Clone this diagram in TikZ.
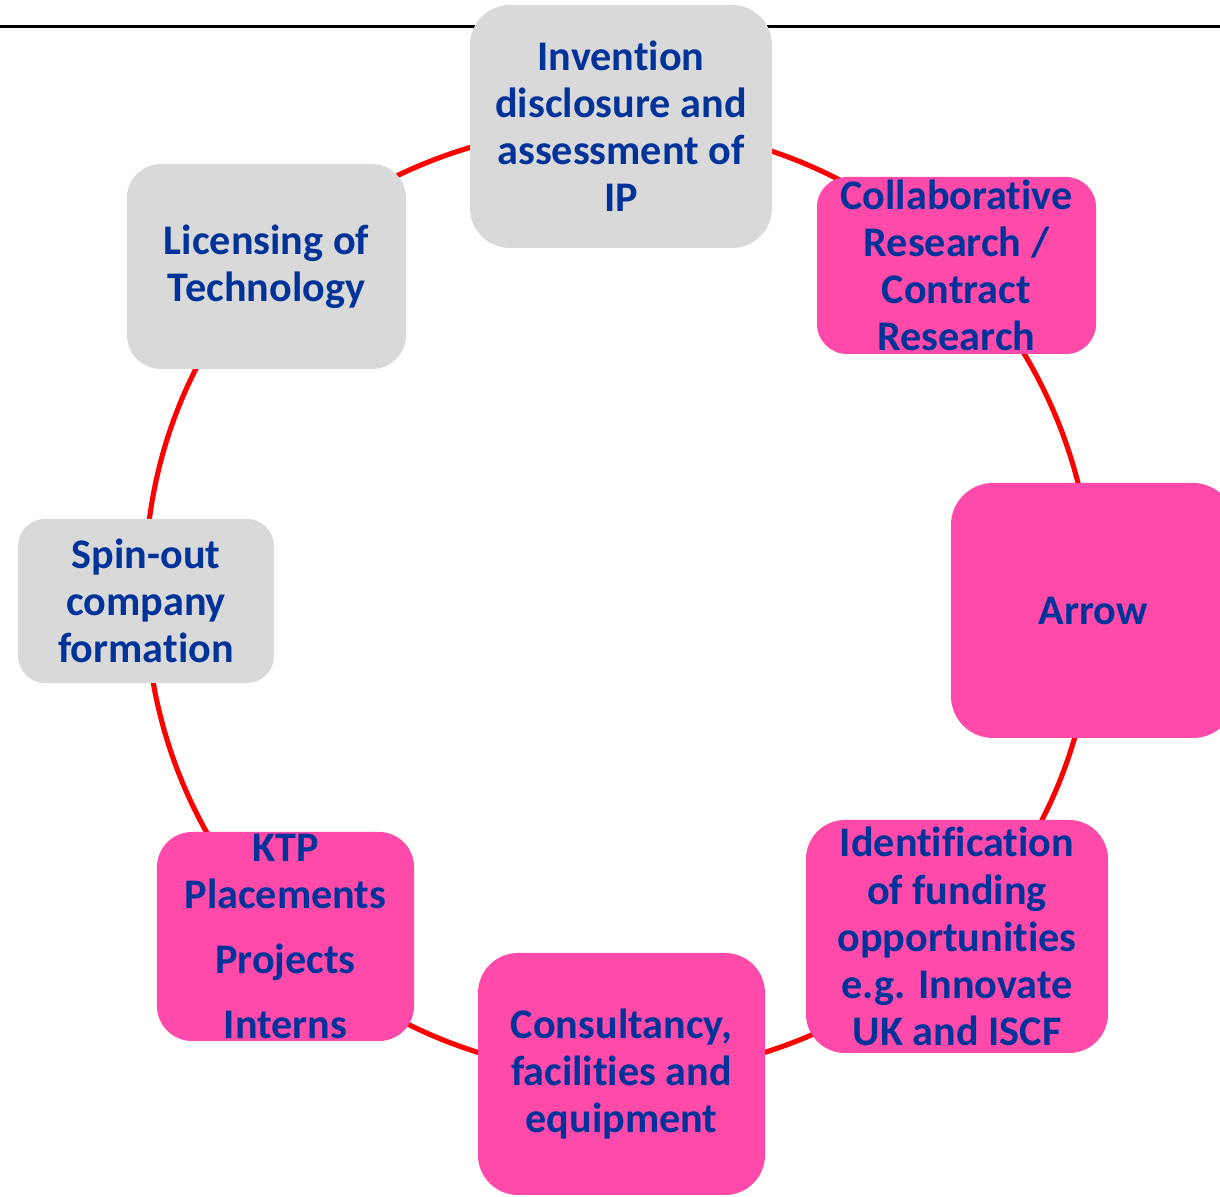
\documentclass[tikz,border=0pt]{standalone}
\usepackage{fontspec}
\setmainfont{Carlito}[RawFeature={-liga;-clig;-dlig}]
\usepackage{tikz}
\usetikzlibrary{backgrounds}
\definecolor{boxgray}{RGB}{217,217,217}
\definecolor{boxpink}{RGB}{255,74,170}
\definecolor{textblue}{RGB}{0,51,153}
\definecolor{ringred}{RGB}{255,0,0}

\begin{document}
\begin{tikzpicture}[
    box/.style={fill=#1, rounded corners=0.35cm, inner sep=0pt, text=textblue, align=center, font=\fontsize{12}{13.4}\selectfont\bfseries},
    ring/.style={draw=ringred, line width=1.45pt},
    rule/.style={draw=black, line width=0.7pt}
]
    \useasboundingbox (0,0) rectangle (12.2,11.97);

    % Top line
    \coordinate (ruleL) at (0,11.705);
    \coordinate (ruleR) at (12.2,11.705);

    % Cycle, clockwise from the top
    \node[box=boxgray, minimum width=3.02cm, minimum height=2.43cm, rounded corners=0.4cm] (invent) at (6.21,10.705) {Invention\\disclosure and\\assessment of\\IP};
    \node[box=boxpink, minimum width=2.79cm, minimum height=1.77cm, rounded corners=0.3cm] (collab) at (9.565,9.315) {Collaborative\\Research /\\Contract\\Research};
    \node[box=boxpink, minimum width=2.84cm, minimum height=2.55cm, rounded corners=0.42cm] (arrow) at (10.93,5.865) {Arrow};
    \node[box=boxpink, minimum width=3.02cm, minimum height=2.33cm, rounded corners=0.39cm] (ident) at (9.57,2.605) {Identification\\of funding\\opportunities\\e.g. Innovate\\UK and ISCF};
    \node[box=boxpink, minimum width=2.87cm, minimum height=2.42cm, rounded corners=0.4cm] (consult) at (6.215,1.23) {Consultancy,\\facilities and\\equipment};
    \node[box=boxpink, minimum width=2.57cm, minimum height=2.09cm] (ktp) at (2.855,2.605) {KTP\\Placements\\[0.18cm]Projects\\[0.18cm]Interns};
    \node[box=boxgray, minimum width=2.56cm, minimum height=1.64cm, rounded corners=0.27cm] (spinout) at (1.46,5.96) {Spin-out\\company\\formation};
    \node[box=boxgray, minimum width=2.79cm, minimum height=2.05cm, rounded corners=0.34cm] (licence) at (2.665,9.305) {Licensing of\\Technology};

    % Ring and line behind the boxes
    \begin{scope}[on background layer]
        \draw[rule] (ruleL) -- (ruleR);
        \draw[ring] (invent.center) to[bend left=22.5, looseness=0.885] (collab.center);
        \draw[ring] (collab.center) to[bend left=22.5, looseness=0.885] (arrow.center);
        \draw[ring] (arrow.center) to[bend left=22.5, looseness=0.885] (ident.center);
        \draw[ring] (ident.center) to[bend left=22.5, looseness=0.885] (consult.center);
        \draw[ring] (consult.center) to[bend left=22.5, looseness=0.885] (ktp.center);
        \draw[ring] (ktp.center) to[bend left=22.5, looseness=0.885] (spinout.center);
        \draw[ring] (spinout.center) to[bend left=22.5, looseness=0.885] (licence.center);
        \draw[ring] (licence.center) to[bend left=22.5, looseness=0.885] (invent.center);
    \end{scope}
\end{tikzpicture}
\end{document}
